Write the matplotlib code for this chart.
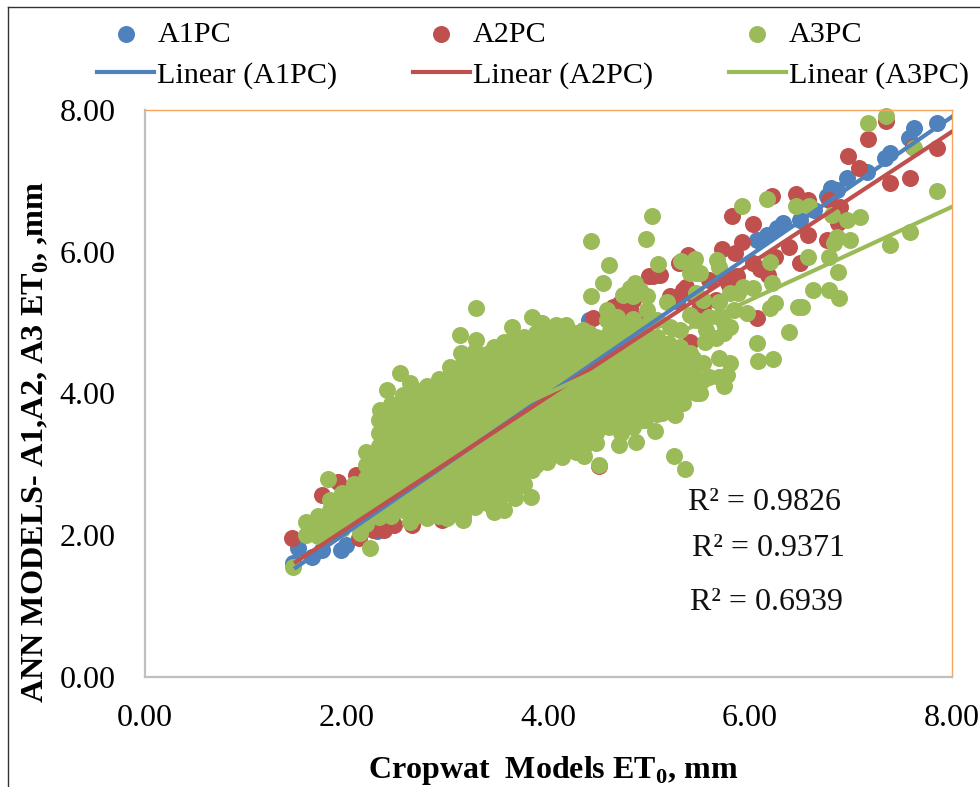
"""Cropwat vs ANN model ET0 scatter with linear trend lines."""
import matplotlib
matplotlib.use("Agg")
import matplotlib.pyplot as plt
from matplotlib.lines import Line2D

plt.rcParams["font.family"] = ["Liberation Serif", "DejaVu Serif"]
plt.rcParams["mathtext.fontset"] = "custom"
plt.rcParams["mathtext.rm"] = "Liberation Serif"
plt.rcParams["mathtext.bf"] = "Liberation Serif:bold"

C_A1, C_A2, C_A3 = "#4F81BD", "#C0504D", "#9BBB59"

tick_vals = [0, 2, 4, 6, 8]
trend_x = [1.5, 8.0]
trend_a1 = [1.54, 7.90]
trend_a2 = [1.62, 7.69]
trend_a3_x = [2.2, 8.0]
trend_a3 = [2.82, 6.63]
r2_labels = ["R² = 0.9826", "R² = 0.9371", "R² = 0.6939"]

# points that can be seen outside the green cloud
a1_x = [1.47, 1.52, 1.66, 1.76, 1.95, 2.0, 2.3, 2.45, 4.41, 6.07, 6.17, 6.27, 6.33,
        6.5, 6.64, 6.77, 6.81, 6.86, 6.96, 7.16, 7.34, 7.39, 7.58, 7.63, 7.86]
a1_y = [1.60, 1.82, 1.69, 1.79, 1.79, 1.86, 2.05, 2.2, 5.04, 6.17, 6.24, 6.33, 6.40,
        6.45, 6.59, 6.78, 6.90, 6.87, 7.04, 7.12, 7.32, 7.39, 7.60, 7.75, 7.82]

a2_x = [1.46, 1.76, 1.92, 2.10, 2.13, 2.27, 2.37, 2.47, 2.65, 2.95, 3.3, 3.9, 4.0,
        4.45, 4.6, 4.64, 4.7, 4.76, 4.81, 4.9, 4.51, 5.04, 5.11, 5.21, 5.23, 5.3,
        5.37, 5.39, 5.41, 5.47, 5.28, 5.5, 5.72, 5.78, 5.82, 5.85, 5.87, 5.92, 5.6,
        6.03, 6.03, 6.07, 6.1, 6.18, 6.22, 6.25, 6.39, 6.46, 6.5, 6.58, 6.58, 6.77,
        6.79, 6.87, 6.89, 6.97, 7.08, 7.17, 7.35, 7.39, 7.59, 7.62, 7.86,
        5.0, 5.34, 5.41, 5.28, 5.54, 5.67, 5.80, 5.74, 4.71, 4.84]
a2_y = [1.96, 2.57, 2.75, 2.85, 1.96, 2.07, 2.07, 2.14, 2.14, 2.21, 4.0, 4.85, 4.9,
        5.06, 5.1, 5.22, 5.0, 5.15, 5.21, 5.05, 2.97, 5.65, 5.67, 5.37, 4.61, 5.84,
        5.5, 5.95, 4.73, 5.13, 5.3, 5.3, 6.04, 5.56, 6.50, 5.98, 5.65, 6.14, 5.6,
        5.84, 6.39, 5.06, 5.75, 5.67, 6.79, 5.93, 6.07, 6.82, 5.84, 6.24, 6.73, 6.17,
        6.73, 6.41, 6.63, 7.35, 7.18, 7.59, 7.84, 6.97, 7.04, 7.48, 7.46,
        5.65, 5.46, 5.41, 5.32, 5.18, 5.32, 5.50, 5.65, 5.27, 5.32]

# cloud read column by column
a3_col_x = [1.60, 1.72, 1.84, 1.96, 2.08, 2.20, 2.32, 2.44, 2.56, 2.68, 2.80, 2.92,
            3.04, 3.16, 3.28, 3.40, 3.52, 3.64, 3.76, 3.88, 4.00, 4.12, 4.24, 4.36,
            4.48, 4.60, 4.72, 4.84, 4.96, 5.08, 5.20, 5.32, 5.44]
a3_col_y = [
    [2.00, 2.18],
    [1.98, 2.09, 2.27],
    [2.00, 2.18, 2.36, 2.50],
    [2.09, 2.27, 2.45, 2.60],
    [2.18, 2.36, 2.54, 2.72],
    [2.15, 2.27, 2.45, 2.63, 2.81, 2.99, 3.17],
    [2.25, 2.36, 2.54, 2.72, 2.90, 3.08, 3.26, 3.44, 3.62],
    [2.27, 2.45, 2.63, 2.81, 2.99, 3.17, 3.35, 3.53, 3.71, 3.85],
    [2.36, 2.54, 2.72, 2.90, 3.08, 3.26, 3.44, 3.62, 3.80, 3.98],
    [2.27, 2.45, 2.63, 2.81, 2.99, 3.17, 3.35, 3.53, 3.71, 3.89, 4.05],
    [2.36, 2.54, 2.72, 2.90, 3.08, 3.26, 3.44, 3.62, 3.80, 3.98, 4.10],
    [2.27, 2.45, 2.63, 2.81, 2.99, 3.17, 3.35, 3.53, 3.71, 3.89, 4.07, 4.20],
    [2.36, 2.54, 2.72, 2.90, 3.08, 3.26, 3.44, 3.62, 3.80, 3.98, 4.16, 4.30],
    [2.27, 2.45, 2.63, 2.81, 2.99, 3.17, 3.35, 3.53, 3.71, 3.89, 4.07, 4.25, 4.43],
    [2.40, 2.54, 2.72, 2.90, 3.08, 3.26, 3.44, 3.62, 3.80, 3.98, 4.16, 4.34, 4.52, 4.60],
    [2.45, 2.63, 2.81, 2.99, 3.17, 3.35, 3.53, 3.71, 3.89, 4.07, 4.25, 4.43, 4.55],
    [2.54, 2.72, 2.90, 3.08, 3.26, 3.44, 3.62, 3.80, 3.98, 4.16, 4.34, 4.52],
    [2.63, 2.81, 2.99, 3.17, 3.35, 3.53, 3.71, 3.89, 4.07, 4.25, 4.43, 4.61, 4.75],
    [2.72, 2.90, 3.08, 3.26, 3.44, 3.62, 3.80, 3.98, 4.16, 4.34, 4.52, 4.70, 4.80],
    [2.99, 3.17, 3.35, 3.53, 3.71, 3.89, 4.07, 4.25, 4.43, 4.61, 4.79, 4.85],
    [3.08, 3.26, 3.44, 3.62, 3.80, 3.98, 4.16, 4.34, 4.52, 4.70, 4.80],
    [3.17, 3.35, 3.53, 3.71, 3.89, 4.07, 4.25, 4.43, 4.61, 4.79],
    [3.26, 3.44, 3.62, 3.80, 3.98, 4.16, 4.34, 4.52, 4.70],
    [3.25, 3.35, 3.53, 3.71, 3.89, 4.07, 4.25, 4.43, 4.61, 4.79],
    [3.30, 3.44, 3.62, 3.80, 3.98, 4.16, 4.34, 4.52, 4.70, 4.80],
    [3.53, 3.71, 3.89, 4.07, 4.25, 4.43, 4.61, 4.79, 4.85],
    [3.44, 3.62, 3.80, 3.98, 4.16, 4.34, 4.52, 4.70, 4.88, 4.95],
    [3.53, 3.71, 3.89, 4.07, 4.25, 4.43, 4.61, 4.79, 4.97, 5.05],
    [3.62, 3.80, 3.98, 4.16, 4.34, 4.52, 4.70, 4.88, 4.95],
    [3.71, 3.89, 4.07, 4.25, 4.43, 4.61, 4.79],
    [3.80, 3.98, 4.16, 4.34, 4.52, 4.70],
    [3.95, 4.07, 4.25, 4.43, 4.61],
    [4.16, 4.34, 4.50],
]
# stragglers round the cloud
a3_out_x = [1.47, 1.82, 2.14, 2.24, 2.33, 2.40, 2.53, 2.63, 3.03, 3.13, 3.14, 3.29, 3.29,
            3.46, 3.56, 3.64, 3.75, 3.84, 3.90, 3.94, 4.08, 4.17, 4.18, 4.35, 4.43,
            4.55, 4.58, 4.60, 4.43, 4.74, 4.84, 4.86, 4.97, 4.98, 5.03, 5.09, 5.18,
            5.32, 5.41, 5.46, 5.47, 5.54, 5.56, 5.68, 5.70, 5.70, 5.74, 5.74, 5.77,
            5.80, 5.84, 5.88, 5.92, 5.97, 6.03, 6.07, 6.08, 6.17, 6.20, 6.20, 6.22,
            6.23, 6.25, 6.39, 6.46, 6.48, 6.52, 6.58, 6.59, 6.63, 6.79, 6.79, 6.82,
            6.84, 6.86, 6.87, 6.88, 6.96, 6.99, 7.09, 7.17, 7.35, 7.39, 7.59, 7.63,
            7.86, 5.47, 5.34, 5.26, 5.13, 5.25, 5.36, 5.06, 4.94, 4.87, 4.70, 4.51,
            4.36, 4.28, 4.14, 3.99, 3.84, 3.83, 3.75, 3.67, 3.60, 3.56, 3.46, 3.16,
            3.00, 2.80, 2.63,
            5.47, 5.60, 5.70, 5.57, 5.74, 5.80, 5.93, 5.47, 5.54, 5.41, 5.51, 5.43,
            5.70, 5.31, 5.21, 5.08, 4.98, 4.84, 4.91, 4.81, 4.68, 4.58, 4.28, 4.41,
            5.41, 5.54, 5.60, 5.51, 5.70, 5.34, 5.41, 5.31, 5.67, 5.80]
a3_out_y = [1.55, 2.79, 2.03, 1.82, 3.77, 4.05, 4.29, 4.15, 4.37, 4.83, 4.57, 5.20, 4.76,
            4.66, 4.73, 4.94, 4.66, 5.08, 4.87, 4.99, 4.97, 4.73, 4.97, 4.90, 6.15,
            5.56, 5.18, 5.81, 5.37, 5.39, 5.01, 5.56, 6.18, 5.37, 6.50, 5.83, 5.29,
            5.87, 5.11, 5.90, 5.70, 4.43, 4.73, 5.88, 4.50, 5.29, 4.11, 4.85, 4.26,
            4.43, 5.18, 5.42, 6.65, 5.14, 5.49, 4.71, 4.45, 6.75, 5.86, 5.21, 5.56,
            4.48, 5.27, 4.87, 6.65, 5.22, 5.22, 5.92, 6.65, 5.46, 5.93, 5.46, 6.52,
            6.12, 6.21, 5.72, 5.35, 6.45, 6.17, 6.49, 7.82, 7.92, 6.09, 6.28, 7.46,
            6.86, 4.00, 3.86, 3.70, 3.72, 3.12, 2.93, 3.47, 3.63, 3.32, 3.27, 2.99,
            3.12, 3.17, 3.10, 3.03, 2.92, 2.54, 2.71, 2.52, 2.74, 2.35, 2.33, 2.21,
            2.24, 2.24, 2.18,
            5.04, 5.08, 5.08, 4.90, 4.99, 5.41, 5.50, 5.41, 5.32, 5.70, 5.70, 5.79,
            5.79, 4.90, 4.94, 5.04, 5.18, 5.37, 5.46, 5.49, 5.08, 5.04, 4.85, 4.85,
            4.37, 4.19, 4.23, 4.00, 4.23, 4.15, 4.57, 4.66, 4.78, 4.94]

a3_x = list(a3_out_x)
a3_y = list(a3_out_y)
for cx, ys in zip(a3_col_x, a3_col_y):
    a3_x += [cx] * len(ys)
    a3_y += ys

fig = plt.figure(figsize=(9.8, 7.87), dpi=100)
ax = fig.add_axes([144.5 / 980, 1 - 676.7 / 787, 807 / 980, 566.7 / 787])

ms = 150
ax.scatter(a1_x, a1_y, s=ms, c=C_A1, lw=0, clip_on=False, zorder=2, label="A1PC")
ax.scatter(a2_x, a2_y, s=ms, c=C_A2, lw=0, clip_on=False, zorder=2.1, label="A2PC")
ax.scatter(a3_x, a3_y, s=ms, c=C_A3, lw=0, clip_on=False, zorder=2.2, label="A3PC")
ax.plot(trend_x, trend_a1, color=C_A1, lw=3.0, zorder=3, label="Linear (A1PC)")
ax.plot(trend_x, trend_a2, color=C_A2, lw=3.0, zorder=3.1, label="Linear (A2PC)")
ax.plot(trend_a3_x, trend_a3, color=C_A3, lw=3.0, zorder=3.2, label="Linear (A3PC)")

ax.set_xlim(0, 8)
ax.set_ylim(0, 8)
ax.set_xticks(tick_vals, [f"{v:.2f}" for v in tick_vals])
ax.set_yticks(tick_vals, [f"{v:.2f}" for v in tick_vals])
ax.tick_params(axis="x", length=0, pad=20, labelsize=23)
ax.tick_params(axis="y", length=0, pad=21, labelsize=23)
for side in ("top", "right"):
    ax.spines[side].set_color("#F8A45C")
    ax.spines[side].set_linewidth(1.0)
for side in ("left", "bottom"):
    ax.spines[side].set_color("#BFBFBF")
    ax.spines[side].set_linewidth(1.6)

for lab, tx, ty in zip(r2_labels, [5.39, 5.43, 5.41], [2.354, 1.705, 0.942]):
    ax.text(tx, ty, lab, fontsize=23, va="baseline", ha="left", color="#111111", zorder=5)

handles, labels = ax.get_legend_handles_labels()
order = [labels.index(n) for n in ("A1PC", "Linear (A1PC)", "A2PC", "Linear (A2PC)",
                                   "A3PC", "Linear (A3PC)")]
fig.legend([handles[i] for i in order], [labels[i] for i in order], ncol=3,
           loc="upper left", bbox_to_anchor=(97 / 980, 1 - 21 / 787),
           bbox_transform=fig.transFigure, frameon=False, fontsize=21.7,
           handlelength=1.9, handletextpad=0.1, columnspacing=2.5,
           labelspacing=0.45, borderpad=0, borderaxespad=0, scatterpoints=1)

fig.text(553 / 980, 1 - 778 / 787, r"Cropwat  Models ET$_{\mathbf{0}}$, mm", fontsize=23,
         fontweight="bold", ha="center", va="baseline")
fig.text(36 / 980, 1 - 442 / 787, r"ANN MODELS- A1,A2, A3 ET$_{\mathbf{0}}$, ,mm", fontsize=23.2,
         fontweight="bold", rotation=90, ha="center", va="center")

# outer picture frame, left and top only
fig.add_artist(Line2D([8 / 980, 8 / 980], [0, 1 - 7 / 787], color="#333333", lw=1.0))
fig.add_artist(Line2D([8 / 980, 1], [1 - 7 / 787, 1 - 7 / 787], color="#333333", lw=1.0))

fig.savefig("out.png", dpi=100)
